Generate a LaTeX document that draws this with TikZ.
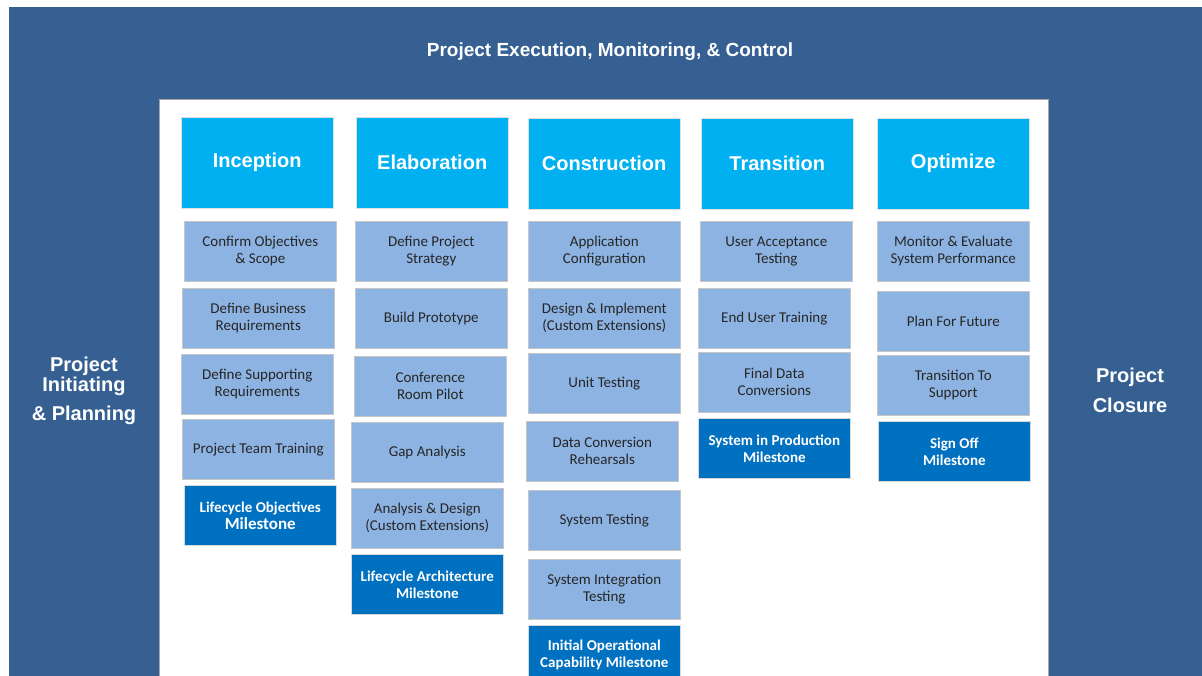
\documentclass[tikz,border=0pt]{standalone}
\usepackage{fontspec}
\setmainfont{Carlito}
\newfontfamily\headfont{Liberation Sans}
\usepackage{xcolor}
\usepackage{tikz}

\definecolor{frameblue}{HTML}{366092}
\definecolor{phasecyan}{HTML}{00B0F0}
\definecolor{tasklight}{HTML}{8DB3E2}
\definecolor{milestoneblue}{HTML}{0070C0}

\begin{document}
\begin{tikzpicture}[x=1pt,y=-1pt,
    phase/.style={fill=phasecyan,draw=gray!25,minimum width=152pt,minimum height=91pt,
      anchor=north west,text=white,font=\headfont\bfseries\fontsize{20}{24}\selectfont},
    task/.style={fill=tasklight,draw=gray!45,line width=0.6pt,minimum width=152pt,
      minimum height=60pt,anchor=north west,align=center,inner sep=2pt,
      text=black!85,font=\fontsize{15}{17}\selectfont},
    milestone/.style={task,fill=milestoneblue,draw=gray!30,text=white,
      font=\bfseries\fontsize{15}{17}\selectfont},
    sidelabel/.style={text=white,align=center,font=\headfont\bfseries\fontsize{20}{18}\selectfont}]
    \useasboundingbox (0,0) rectangle (1202,676);
    \clip (0,0) rectangle (1202,676);
    \fill[white] (0,0) rectangle (1202,676);
    \fill[frameblue] (9,7) rectangle (1215,690);
    \draw[fill=white,draw=gray!70,line width=0.8pt] (159,99) rectangle (1048,690);

    \node[text=white,font=\headfont\bfseries\fontsize{19}{22}\selectfont] (title) at (610,52)
      {Project Execution, Monitoring, \& Control};
    \node[sidelabel] (initiating) at (84,391) {Project\\Initiating\\[10pt]\& Planning};
    \node[sidelabel,font=\headfont\bfseries\fontsize{20}{30}\selectfont] (closure) at (1130,390)
      {Project\\Closure};

    \node[phase] (inception) at (181,117) {Inception};
    \node[phase] (elaboration) at (356,117) {Elaboration};
    \node[phase] (construction) at (528,118) {Construction};
    \node[phase] (transition) at (701,118) {Transition};
    \node[phase] (optimize) at (877,118) {Optimize};

    \node[task] (inc1) at (184,221) {Confirm Objectives\\\& Scope};
    \node[task] (inc2) at (182,288) {Define Business\\Requirements};
    \node[task] (inc3) at (181,354) {Define Supporting\\Requirements};
    \node[task] (inc4) at (182,419) {Project Team Training};
    \node[milestone] (incm) at (184,485)
      {Lifecycle Objectives\\{\fontsize{17}{19}\selectfont Milestone}};

    \node[task] (ela1) at (355,221) {Define Project\\Strategy};
    \node[task] (ela2) at (355,288) {Build Prototype};
    \node[task] (ela3) at (354,356) {Conference\\Room Pilot};
    \node[task] (ela4) at (351,422) {Gap Analysis};
    \node[task] (ela5) at (351,488) {Analysis \& Design\\(Custom Extensions)};
    \node[milestone] (elam) at (351,554) {Lifecycle Architecture\\Milestone};

    \node[task] (con1) at (528,221) {Application\\Configuration};
    \node[task] (con2) at (528,288) {Design \& Implement\\(Custom Extensions)};
    \node[task] (con3) at (528,353) {Unit Testing};
    \node[task] (con4) at (526,421) {Data Conversion\\Rehearsals};
    \node[task] (con5) at (528,490) {System Testing};
    \node[task] (con6) at (528,559) {System Integration\\Testing};
    \node[milestone] (conm) at (528,625) {Initial Operational\\Capability Milestone};

    \node[task] (tra1) at (700,221) {User Acceptance\\Testing};
    \node[task] (tra2) at (698,288) {End User Training};
    \node[task] (tra3) at (698,352) {Final Data\\Conversions};
    \node[milestone] (tram) at (698,418) {System in Production\\Milestone};

    \node[task] (opt1) at (877,221) {Monitor \& Evaluate\\System Performance};
    \node[task] (opt2) at (877,291) {Plan For Future};
    \node[task] (opt3) at (877,355) {Transition To\\Support};
    \node[milestone] (optm) at (878,421) {Sign Off\\Milestone};
  \end{tikzpicture}
\end{document}
